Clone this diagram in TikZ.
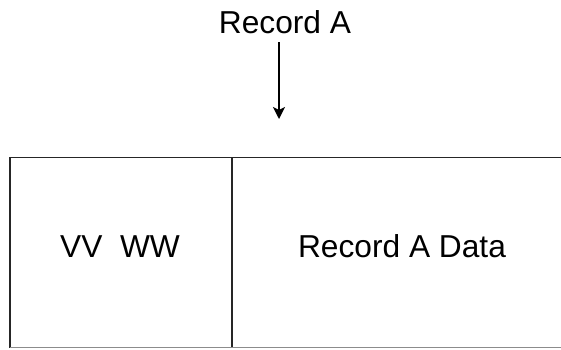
\documentclass[tikz,border=0pt]{standalone}
\usepackage{fontspec}
\setmainfont{Liberation Sans}
\usetikzlibrary{positioning,arrows.meta}

\begin{document}
\begin{tikzpicture}[x=1pt, y=-1pt, >={Stealth[length=12pt, width=12pt, inset=3pt]}]
	\tikzset{
	  field text/.style={font=\fontsize{31.7}{38}\selectfont, inner sep=0pt, anchor=base},
	  field line/.style={line width=1.6pt, black!85},
	}
	\useasboundingbox (0,0) rectangle (561,349);
	
	% record pointer
	\node [field text] (recA) at (285,33) {Record A};
	\coordinate (arrTop) at (279,42);
	\coordinate (arrTip) at (279,119);
	\draw [->, line width=1.6pt] (arrTop) -- (arrTip);
	
	% record box
	\coordinate (boxTL) at (10,157.5);
	\coordinate (boxBL) at (10,347.5);
	\coordinate (boxTR) at (561,157.5);
	\coordinate (boxBR) at (561,347.5);
	\coordinate (divTop) at (232,157.5);
	\coordinate (divBot) at (232,347.5);
	\draw [field line] (boxTR) -- (boxTL) -- (boxBL);
	\draw [field line] (divTop) -- (divBot);
	\draw [line width=1pt, black!45] (boxBL) -- (boxBR);
	
	\node [field text] (keyVW) at (120,257) {VV\ \ WW};
	\node [field text] (recData) at (402,257) {Record A Data};
\end{tikzpicture}
\end{document}
